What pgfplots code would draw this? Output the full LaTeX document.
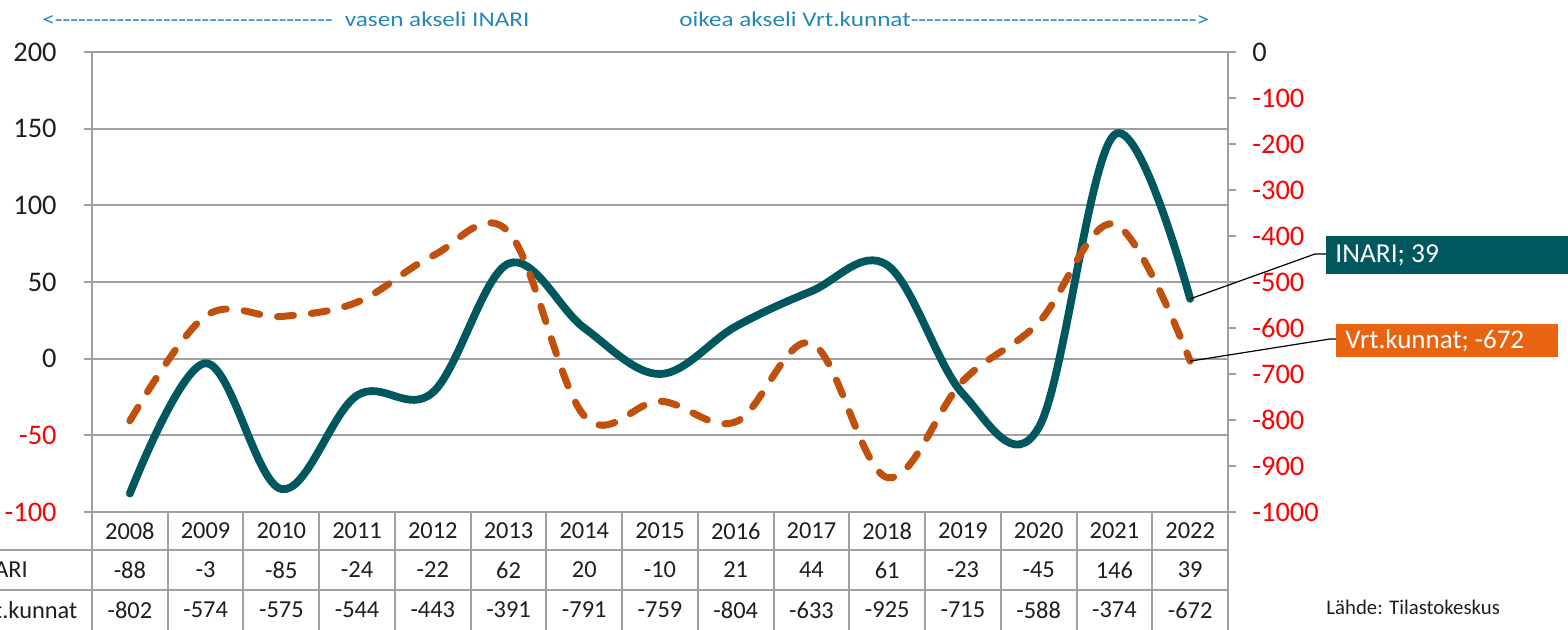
\documentclass[border=0pt]{standalone}
\usepackage{pgfplots}
\pgfplotsset{compat=1.18}
\usepackage{fontspec}
\setmainfont{Carlito}
\newfontfamily\titlefont{Carlito}[FakeStretch=1.2]
\definecolor{inari}{RGB}{0,88,94}
\definecolor{vrt}{RGB}{192,80,14}
\definecolor{vrtbox}{RGB}{232,100,16}
\definecolor{gridc}{RGB}{160,160,160}
\definecolor{titlec}{RGB}{35,135,185}
\definecolor{txt}{RGB}{30,30,30}
\begin{document}
\begin{tikzpicture}
\begin{axis}[
  at={(0,0)}, anchor=south west,
  scale only axis, width=568pt, height=230pt,
  xmin=-0.5, xmax=14.5, ymin=-100, ymax=200,
  ytick={-100,-50,0,50,100,150,200},
  yticklabels={\color{red}-100,\color{red}-50,0,50,100,150,200},
  xtick=\empty,
  ytick pos=left, tick align=outside, major tick length=4pt,
  ymajorgrids, grid style={gridc, line width=1pt},
  axis line style={gridc, line width=1pt},
  every tick/.style={gridc, line width=1pt},
  yticklabel style={font=\fontsize{14.2}{16}\selectfont, text=txt, anchor=east, inner sep=0pt, xshift=-13.5pt},
  clip=false,
]
\addplot[inari, line width=3.9pt, smooth, tension=0.6, line cap=round] coordinates {
 (0,-88)(1,-3)(2,-85)(3,-24)(4,-22)(5,62)(6,20)(7,-10)(8,21)(9,44)(10,61)(11,-23)(12,-45)(13,146)(14,39)};
\coordinate (pI) at (axis cs:14,39);
\end{axis}
\begin{axis}[
  at={(0,0)}, anchor=south west,
  scale only axis, width=568pt, height=230pt,
  xmin=-0.5, xmax=14.5, ymin=-1000, ymax=0,
  axis x line=none, axis y line*=right,
  ytick={-1000,-900,-800,-700,-600,-500,-400,-300,-200,-100,0},
  yticklabels={\color{red}-1000,\color{red}-900,\color{red}-800,\color{red}-700,\color{red}-600,\color{red}-500,\color{red}-400,\color{red}-300,\color{red}-200,\color{red}-100,0},
  tick align=outside, major tick length=4pt,
  axis line style={gridc, line width=1pt},
  every tick/.style={gridc, line width=1pt},
  yticklabel style={font=\fontsize{14.2}{16}\selectfont, text=txt, anchor=west, inner sep=0pt, xshift=8pt},
  clip=false,
]
\addplot[vrt, line width=3.5pt, smooth, tension=0.6, line cap=round, dash pattern=on 8pt off 9pt] coordinates {
 (0,-802)(1,-574)(2,-575)(3,-544)(4,-443)(5,-391)(6,-791)(7,-759)(8,-804)(9,-633)(10,-925)(11,-715)(12,-588)(13,-374)(14,-672)};
\coordinate (pV) at (axis cs:14,-672);
\end{axis}
% data table
\foreach \k in {0,...,15} \draw[gridc, line width=1pt] ({\k*37.8667pt},0pt) -- ({\k*37.8667pt},-62pt);
\draw[gridc, line width=1pt] (-50pt,-19pt) -- (568pt,-19pt);
\draw[gridc, line width=1pt] (-50pt,-39pt) -- (568pt,-39pt);
\foreach \i/\yr/\a/\b in {0/2008/-88/-802,1/2009/-3/-574,2/2010/-85/-575,3/2011/-24/-544,4/2012/-22/-443,5/2013/62/-391,6/2014/20/-791,7/2015/-10/-759,8/2016/21/-804,9/2017/44/-633,10/2018/61/-925,11/2019/-23/-715,12/2020/-45/-588,13/2021/146/-374,14/2022/39/-672}{
  \node[font=\fontsize{12.2}{14}\selectfont, text=txt, inner sep=0pt] at ({(\i+0.5)*37.8667pt},-9.5pt) {\yr};
  \node[font=\fontsize{12.2}{14}\selectfont, text=txt, inner sep=0pt] at ({(\i+0.5)*37.8667pt},-29pt) {\a};
  \node[font=\fontsize{12.2}{14}\selectfont, text=txt, inner sep=0pt] at ({(\i+0.5)*37.8667pt},-49pt) {\b};
}
\node[anchor=west, font=\fontsize{12.2}{14}\selectfont, text=txt, inner sep=0pt] at (-60pt,-29pt) {INARI};
\node[anchor=west, font=\fontsize{12.2}{14}\selectfont, text=txt, inner sep=0pt] at (-60pt,-49pt) {Vrt.kunnat};
% titles
\node[anchor=base west, inner sep=0pt, text=titlec, font=\titlefont\fontsize{10.5}{12}\selectfont] at (-25pt,242.5pt) {<\hbox to 139pt{\xleaders\hbox{-}\hfill}\hspace{6pt}vasen akseli INARI};
\node[anchor=base west, inner sep=0pt, text=titlec, font=\titlefont\fontsize{10.5}{12}\selectfont] at (293.5pt,242.5pt) {oikea akseli Vrt.kunnat\hbox to 143pt{\xleaders\hbox{-}\hfill}>};
% data labels
\fill[inari] (617pt,119pt) rectangle (745pt,138pt);
\node[anchor=west, text=white, font=\fontsize{13.7}{16}\selectfont, inner sep=0pt] at (621.5pt,128.5pt) {INARI; 39};
\draw[black, line width=0.6pt] (pI) -- (611.5pt,129pt) -- (617pt,129pt);
\fill[vrtbox] (622pt,77.5pt) rectangle (733pt,94pt);
\node[anchor=west, text=white, font=\fontsize{13.5}{16}\selectfont, inner sep=0pt] at (626.5pt,85.75pt) {Vrt.kunnat; -672};
\draw[black, line width=0.6pt] (pV) -- (619pt,86.5pt) -- (622pt,86.5pt);
\node[anchor=west, inner sep=0pt, font=\fontsize{10.4}{12}\selectfont, text=txt] at (617pt,-47.5pt) {Lähde: Tilastokeskus};
\pgfresetboundingbox
\path[use as bounding box] (-46pt,-59pt) rectangle (738pt,256pt);
\end{tikzpicture}
\end{document}
